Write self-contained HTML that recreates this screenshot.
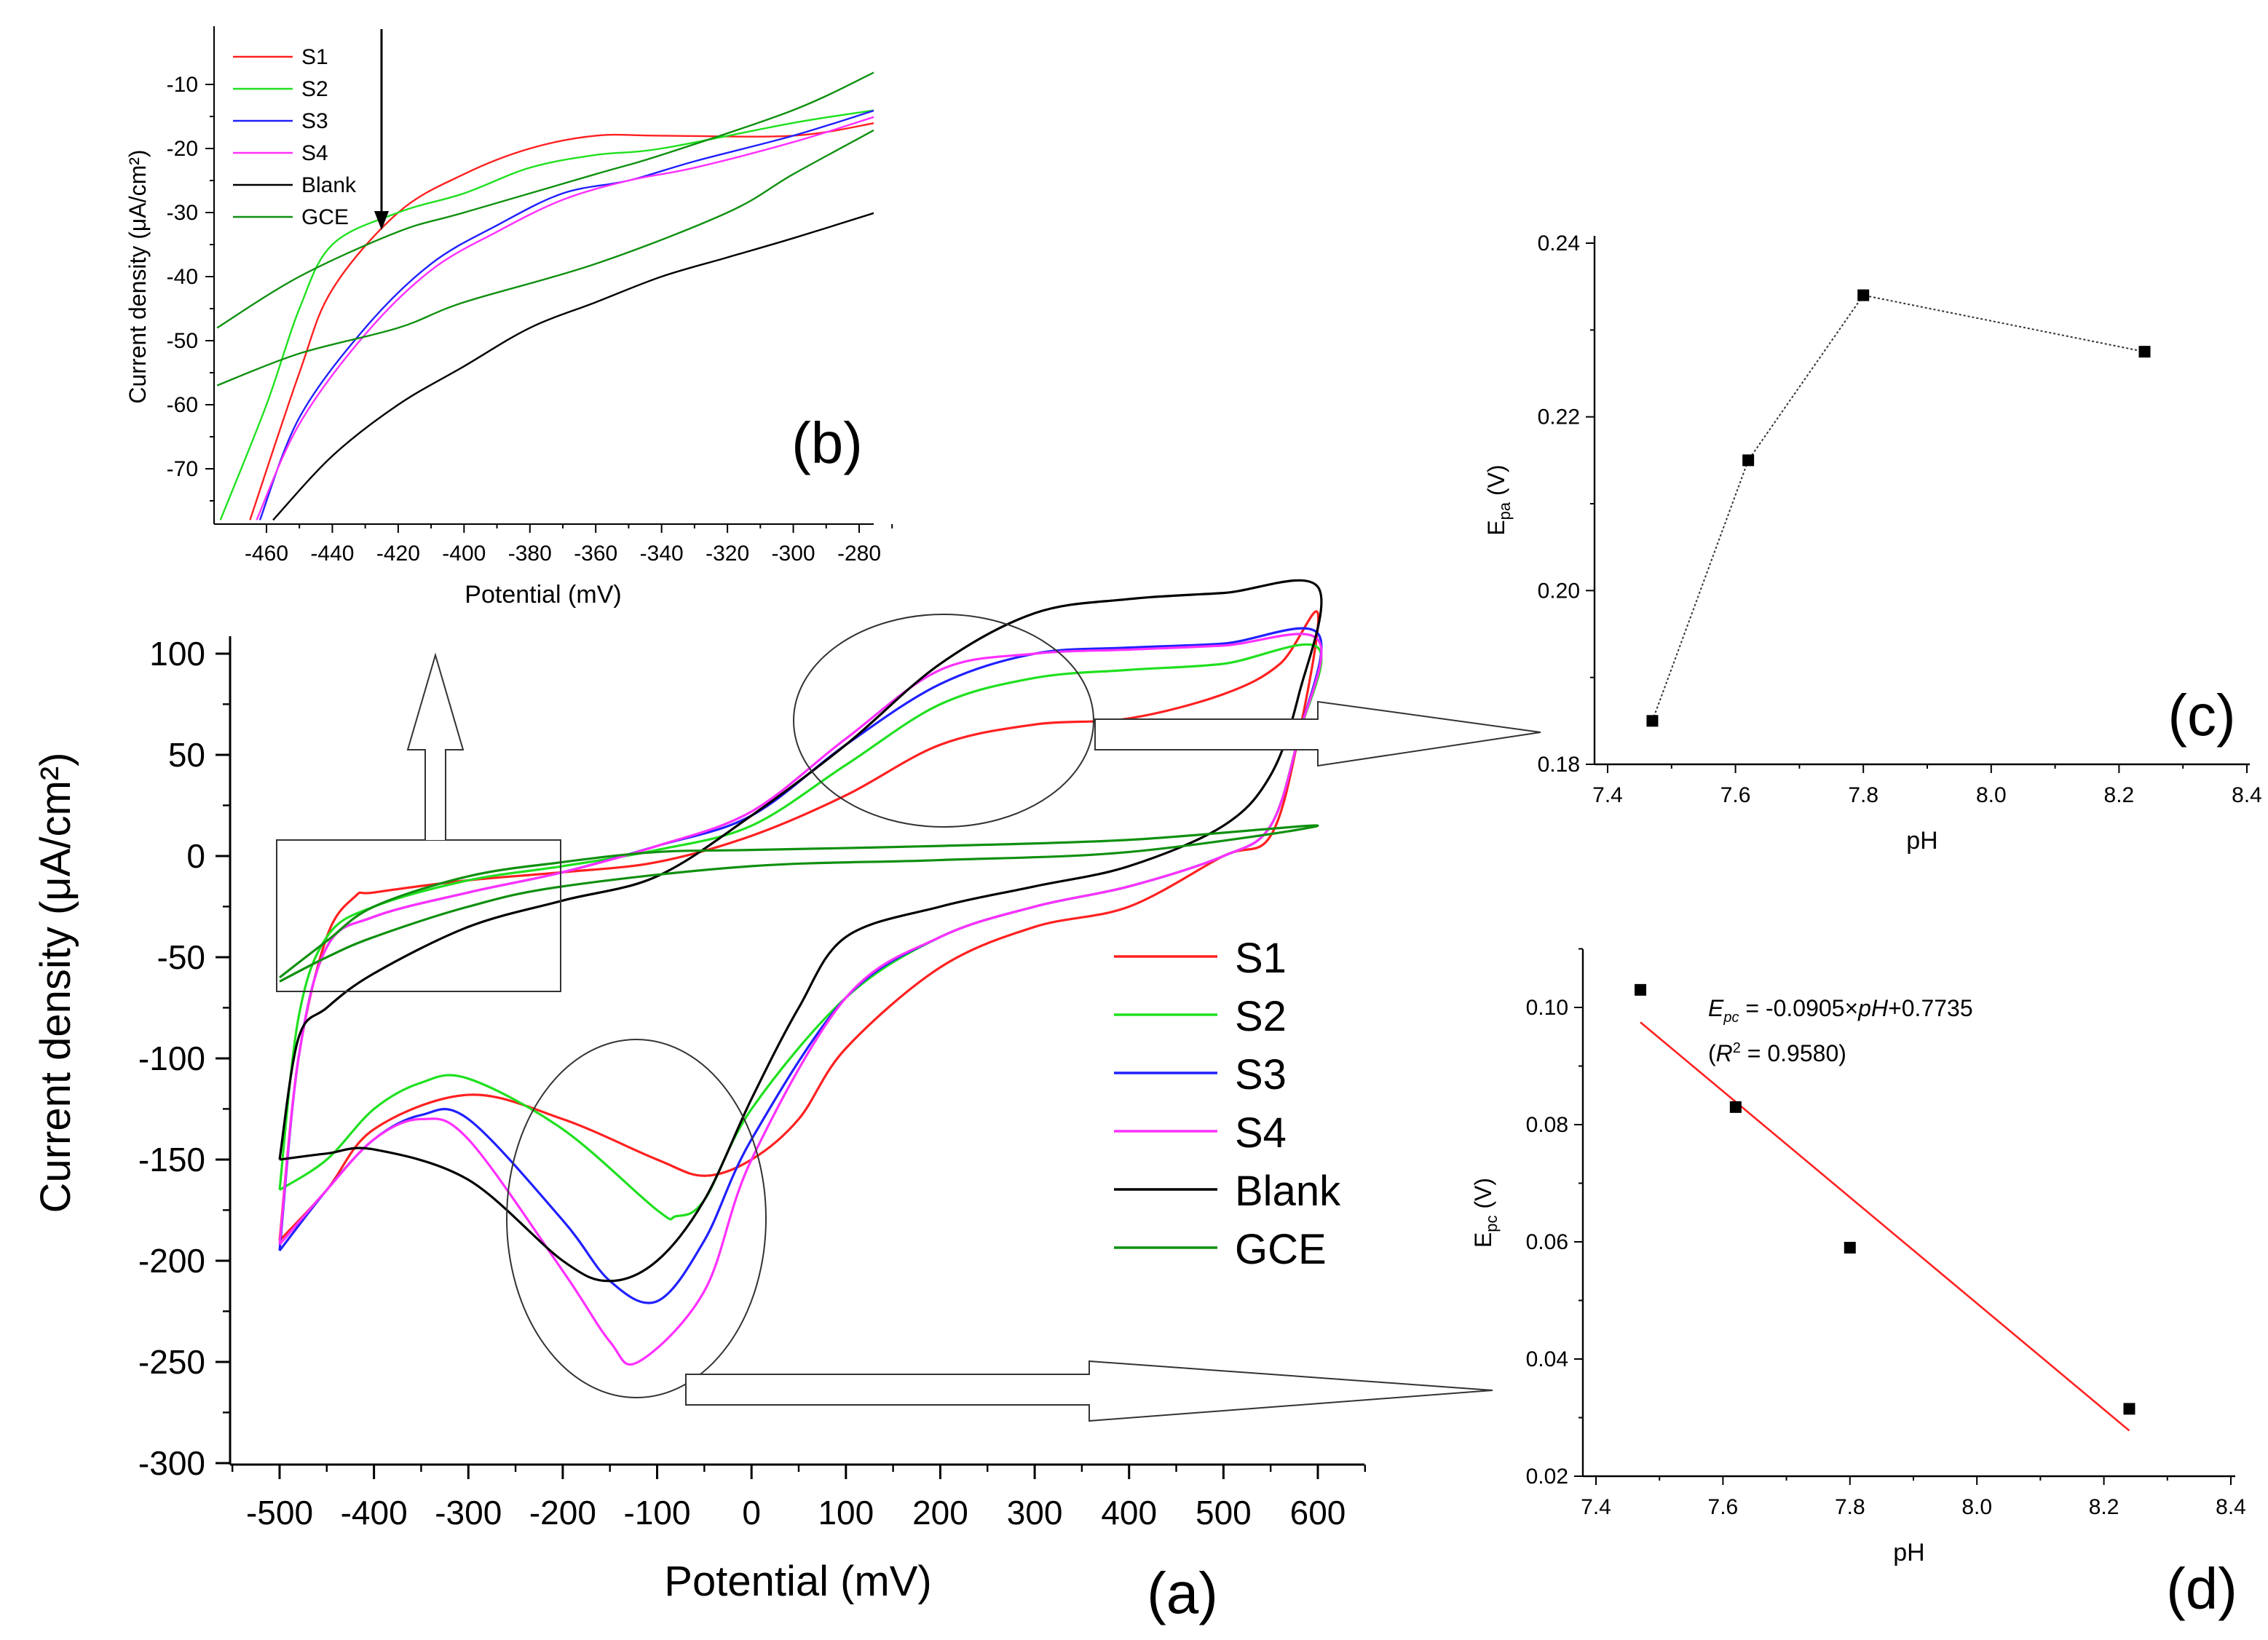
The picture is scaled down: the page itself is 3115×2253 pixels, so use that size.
<!DOCTYPE html>
<html><head><meta charset="utf-8"><style>
html,body{margin:0;padding:0;background:#fff}
svg{display:block;font-family:"Liberation Sans",sans-serif}
</style></head><body>
<svg id="fig" width="3115" height="2253" viewBox="0 0 1557.5 1126.5">
<g id="g"></g>
</svg>
<script>
// ---- Panel (a) data: CV curves (potential mV, current density) ----
const aNames = ["S1","S2","S3","S4","Blank","GCE"];
const aColors = ["#ff2020","#20e020","#2020ff","#ff30ff","#000000","#109010"];
const s1X = [-500,-480,-450,-420,-400,-300,-200,-100,0,100,200,300,400,500,560,600,580,550,500,400,300,200,100,50,0,-50,-100,-200,-300,-400,-450,-500];
const s1Y = [-190,-100,-40,-20,-18,-12,-8,-3,10,30,55,65,68,80,95,120,60,10,0,-25,-35,-55,-95,-130,-150,-158,-150,-130,-118,-135,-165,-190];
const s2X = [-500,-480,-450,-400,-300,-200,-100,0,100,200,300,400,500,600,580,550,500,400,300,200,100,0,-50,-80,-100,-200,-300,-350,-400,-450,-500];
const s2Y = [-165,-80,-40,-25,-12,-5,3,15,45,75,88,92,95,103,60,15,0,-15,-25,-40,-70,-125,-170,-178,-175,-135,-110,-112,-125,-150,-165];
const s3X = [-500,-480,-450,-400,-300,-200,-100,0,100,200,300,400,500,600,580,550,500,400,300,200,100,0,-50,-100,-150,-200,-300,-350,-400,-450,-500];
const s3Y = [-195,-100,-45,-30,-18,-8,5,20,55,85,100,103,105,110,60,15,0,-15,-25,-40,-70,-140,-190,-220,-210,-180,-130,-128,-140,-165,-195];
const s4X = [-500,-480,-450,-400,-300,-200,-100,0,100,200,300,400,500,600,580,550,500,400,300,200,100,0,-50,-120,-150,-200,-300,-350,-400,-450,-500];
const s4Y = [-192,-100,-45,-30,-18,-8,5,22,58,92,100,102,104,107,60,15,0,-15,-25,-40,-70,-150,-215,-250,-240,-205,-140,-130,-140,-165,-192];
const blX = [-500,-480,-450,-400,-300,-200,-100,0,100,200,300,400,500,600,580,550,500,400,300,200,100,50,0,-50,-100,-150,-200,-300,-400,-450,-500];
const blY = [-150,-90,-75,-58,-35,-22,-10,20,55,95,120,127,130,133,80,40,15,-5,-15,-25,-40,-75,-120,-170,-200,-210,-200,-160,-145,-147,-150];
const gcX = [-500,-450,-400,-300,-200,-100,0,200,400,600,400,200,0,-200,-300,-400,-450,-500];
const gcY = [-60,-42,-25,-10,-3,2,3,5,8,15,2,-2,-5,-15,-25,-40,-50,-62];
const aXs=[s1X,s2X,s3X,s4X,blX,gcX], aYs=[s1Y,s2Y,s3Y,s4Y,blY,gcY];
const aXTicks=[-500,-400,-300,-200,-100,0,100,200,300,400,500,600];
const aYTicks=[100,50,0,-50,-100,-150,-200,-250,-300];

// ---- Panel (b) data: zoomed region ----
const bS1X=[-465,-450,-440,-420,-400,-380,-360,-340,-300,-275];
const bS1Y=[-78,-55,-42,-30,-24,-20,-18,-18,-18,-16];
const bS2X=[-474,-460,-450,-440,-420,-400,-380,-360,-340,-300,-275];
const bS2Y=[-78,-60,-45,-35,-30,-27,-23,-21,-20,-16,-14];
const bS3X=[-462,-450,-430,-410,-390,-370,-350,-330,-300,-275];
const bS3Y=[-78,-62,-48,-38,-32,-27,-25,-22,-18,-14];
const bS4X=[-463,-450,-430,-410,-390,-370,-350,-330,-300,-275];
const bS4Y=[-78,-63,-49,-39,-33,-28,-25,-23,-19,-15];
const bBlX=[-458,-440,-420,-400,-380,-360,-340,-320,-300,-275];
const bBlY=[-78,-68,-60,-54,-48,-44,-40,-37,-34,-30];
const bGuX=[-475,-450,-420,-400,-360,-340,-300,-275];
const bGuY=[-48,-40,-33,-30,-24,-21,-14,-8];
const bGlX=[-475,-450,-420,-400,-360,-320,-300,-275];
const bGlY=[-57,-52,-48,-44,-38,-30,-24,-17];
const bXs=[bS1X,bS2X,bS3X,bS4X,bBlX,bGuX,bGlX], bYs=[bS1Y,bS2Y,bS3Y,bS4Y,bBlY,bGuY,bGlY];
const bColors=["#ff2020","#20e020","#2020ff","#ff30ff","#000000","#109010","#109010"];
const bXTicks=[-460,-440,-420,-400,-380,-360,-340,-320,-300,-280];
const bYTicks=[-10,-20,-30,-40,-50,-60,-70];

// ---- Panel (c) ----
const cPH=[7.47,7.62,7.80,8.24];
const cEpa=[0.185,0.215,0.234,0.2275];
const cXTicks=[7.4,7.6,7.8,8.0,8.2,8.4];
const cYTicks=[0.18,0.20,0.22,0.24];
// ---- Panel (d) ----
const dPH=[7.47,7.62,7.80,8.24];
const dEpc=[0.103,0.083,0.059,0.0315];
const dSlope=-0.0905, dIntercept=0.7735;
const dXTicks=[7.4,7.6,7.8,8.0,8.2,8.4];
const dYTicks=[0.02,0.04,0.06,0.08,0.10];

const NS="http://www.w3.org/2000/svg";
const root=document.getElementById('g');
function el(tag,attrs,parent,txt){const e=document.createElementNS(NS,tag);for(const k in attrs)e.setAttribute(k,attrs[k]);if(txt!==undefined)e.textContent=txt;(parent||root).appendChild(e);return e;}
function lin(d0,d1,r0,r1){return v=>r0+(v-d0)*(r1-r0)/(d1-d0);}
function smooth(pts){let d="M"+pts[0][0]+","+pts[0][1];for(let i=0;i<pts.length-1;i++){const p0=pts[i-1]||pts[i],p1=pts[i],p2=pts[i+1],p3=pts[i+2]||p2;const c1=[p1[0]+(p2[0]-p0[0])/6,p1[1]+(p2[1]-p0[1])/6],c2=[p2[0]-(p3[0]-p1[0])/6,p2[1]-(p3[1]-p1[1])/6];d+=" C"+c1+" "+c2+" "+p2;}return d;}

// ---------- Panel (a) ----------
const ax=lin(-500,600,192,905), ay=lin(0,100,588,449);
const pa=el('g',{});


el('line',{x1:158,y1:437,x2:158,y2:1006,stroke:'#000','stroke-width':1.5},pa);
el('line',{x1:158,y1:1006,x2:937,y2:1006,stroke:'#000','stroke-width':1.5},pa);
aXTicks.forEach(t=>{const x=ax(t);el('line',{x1:x,y1:1006,x2:x,y2:1016,stroke:'#000','stroke-width':1.5},pa);
 el('line',{x1:x+32.4,y1:1006,x2:x+32.4,y2:1011,stroke:'#000','stroke-width':1.2},pa);
 const tx=el('text',{x:x,y:1047,'font-size':23,'text-anchor':'middle'},pa,String(t));});
el('line',{x1:ax(-550),y1:1006,x2:ax(-550),y2:1011,stroke:'#000','stroke-width':1.2},pa);
aYTicks.forEach(t=>{const y=ay(t);el('line',{x1:148,y1:y,x2:158,y2:y,stroke:'#000','stroke-width':1.5},pa);
 if(t<100)el('line',{x1:153,y1:y-34.8,x2:158,y2:y-34.8,stroke:'#000','stroke-width':1.2},pa);
 const tx=el('text',{x:141,y:y+8,'font-size':23,'text-anchor':'end'},pa,String(t));});
aNames.forEach((n,i)=>{const pts=aXs[i].map((v,j)=>[ax(v),ay(aYs[i][j])]);const p=el('path',{d:smooth(pts),fill:'none',stroke:aColors[i],'stroke-width':1.6},pa);
 
 const ly=657+i*40;el('line',{x1:765,y1:ly,x2:836,y2:ly,stroke:aColors[i],'stroke-width':1.8},pa);
 const lt=el('text',{x:848,y:ly+11,'font-size':29},pa,n);});
let t=el('text',{x:548,y:1096,'font-size':29,'text-anchor':'middle'},pa,'Potential (mV)');
t=el('text',{x:48,y:675,'font-size':29,'text-anchor':'middle',transform:'rotate(-90 48 675)'},pa,'Current density (μA/cm²)');
t=el('text',{x:812,y:1108,'font-size':40,'text-anchor':'middle'},pa,'(a)');
// annotations
el('rect',{x:190,y:577,width:195,height:104,fill:'none',stroke:'#333','stroke-width':1},pa);
el('path',{d:'M292,577 V515 H280 L299,450 L318,515 H306 V577',fill:'#fff',stroke:'#333','stroke-width':1},pa);
el('ellipse',{cx:648,cy:495,rx:103,ry:73,fill:'none',stroke:'#333','stroke-width':1},pa);
el('ellipse',{cx:437,cy:837,rx:89,ry:123,fill:'none',stroke:'#333','stroke-width':1},pa);
el('path',{d:'M752,494 V515 H905 V526 L1058,503 L905,482 V494 Z',fill:'#fff',stroke:'#333','stroke-width':1},pa);
el('path',{d:'M471,944 V965 H748 V976 L1025,955 L748,935 V944 Z',fill:'#fff',stroke:'#333','stroke-width':1},pa);

// ---------- Panel (b) ----------
const bx=lin(-460,-280,183,590), by=lin(-10,-70,58,322);
const pb=el('g',{});


el('defs',{},pb).innerHTML='<clipPath id="cb"><rect x="147" y="18" width="453" height="342"/></clipPath>';
const cg=el('g',{'clip-path':'url(#cb)'},pb);
bXs.forEach((xs,i)=>{const pts=xs.map((v,j)=>[bx(v),by(bYs[i][j])]);const p=el('path',{d:smooth(pts),fill:'none',stroke:bColors[i],'stroke-width':1.2},cg);
 });
el('line',{x1:147,y1:18,x2:147,y2:360,stroke:'#000','stroke-width':1},pb);
el('line',{x1:147,y1:360,x2:600,y2:360,stroke:'#000','stroke-width':1},pb);
bXTicks.forEach(v=>{const x=bx(v);el('line',{x1:x,y1:360,x2:x,y2:366,stroke:'#000'},pb);el('line',{x1:x+22.6,y1:360,x2:x+22.6,y2:363,stroke:'#000'},pb);
 const tx=el('text',{x:x,y:385,'font-size':15,'text-anchor':'middle'},pb,String(v));});
bYTicks.forEach(v=>{const y=by(v);el('line',{x1:141,y1:y,x2:147,y2:y,stroke:'#000'},pb);el('line',{x1:144,y1:y+22,x2:147,y2:y+22,stroke:'#000'},pb);
 const tx=el('text',{x:136,y:y+5,'font-size':15,'text-anchor':'end'},pb,String(v));});
["S1","S2","S3","S4","Blank","GCE"].forEach((n,i)=>{const ly=39+i*22;el('line',{x1:160,y1:ly,x2:201,y2:ly,stroke:aColors[i],'stroke-width':1.2},pb);
 const lt=el('text',{x:207,y:ly+5,'font-size':15},pb,n);});
el('line',{x1:262,y1:20,x2:262,y2:146,stroke:'#000','stroke-width':1.5},pb);
el('path',{d:'M257,145 L262,158 L267,145 Z',fill:'#000'},pb);
t=el('text',{x:373,y:414,'font-size':17,'text-anchor':'middle'},pb,'Potential (mV)');
t=el('text',{x:100,y:190,'font-size':16,'text-anchor':'middle',transform:'rotate(-90 100 190)'},pb,'Current density (μA/cm²)');
t=el('text',{x:568,y:318,'font-size':40,'text-anchor':'middle'},pb,'(b)');

// ---------- Panel (c)/(d) helper ----------
function scatterPanel(name,L,R,T,B,xd,yd,xs,ys,xt,yt,dec,yl,sub,lab,labX,labY,dotted){
 const g=el('g',{});
 
 
 const sx=lin(7.4,8.4,xd[0],xd[1]), sy=lin(yd[0],yd[1],yd[2],yd[3]);
 el('line',{x1:L,y1:T,x2:L,y2:B,stroke:'#000','stroke-width':1.2},g);
 el('line',{x1:L,y1:B,x2:R,y2:B,stroke:'#000','stroke-width':1.2},g);
 xt.forEach(v=>{const x=sx(v);el('line',{x1:x,y1:B,x2:x,y2:B+6,stroke:'#000'},g);if(v<8.4)el('line',{x1:sx(v+0.1),y1:B,x2:sx(v+0.1),y2:B+3,stroke:'#000'},g);
  const tx=el('text',{x:x,y:B+26,'font-size':15,'text-anchor':'middle'},g,v.toFixed(1));});
 yt.forEach(v=>{const y=sy(v);el('line',{x1:L-6,y1:y,x2:L,y2:y,stroke:'#000'},g);const y2=sy(v+0.01);if(y2>T-2)el('line',{x1:L-3,y1:y2,x2:L,y2:y2,stroke:'#000'},g);
  const tx=el('text',{x:L-10,y:y+5,'font-size':15,'text-anchor':'end'},g,v.toFixed(2));});
 if(dotted){const p=el('polyline',{points:xs.map((v,i)=>sx(v)+','+sy(ys[i])).join(' '),fill:'none',stroke:'#333','stroke-width':1,'stroke-dasharray':'1.5,1.5'},g);}
 else{const x0=xs[0],x1=xs[xs.length-1];const p=el('line',{x1:sx(x0),y1:sy(dSlope*x0+dIntercept),x2:sx(x1),y2:sy(dSlope*x1+dIntercept),stroke:'#ff2020','stroke-width':1.3},g);}
 xs.forEach((v,i)=>{const r=el('rect',{x:sx(v)-4,y:sy(ys[i])-4,width:8,height:8,fill:'#000'},g);});
 const cx=(L+R)/2;t=el('text',{x:cx,y:B+58,'font-size':17,'text-anchor':'middle'},g,'pH');
 const yc=(T+B)/2;t=el('text',{x:yl,y:yc,'font-size':16,'text-anchor':'middle',transform:`rotate(-90 ${yl} ${yc})`},g);t.innerHTML='E<tspan font-size="11" dy="4">'+sub+'</tspan><tspan dy="-4"> (V)</tspan>';
 t=el('text',{x:labX,y:labY,'font-size':40,'text-anchor':'middle'},g,lab);
 return g;}
scatterPanel('panel-c',1095,1545,162,525,[1104,1543],[0.18,0.24,525,167],cPH,cEpa,cXTicks,cYTicks,2,1033,'pa','(c)',1512,505,true);
const gd=scatterPanel('panel-d',1087,1535,652,1014,[1096,1532],[0.02,0.10,1014,692],dPH,dEpc,dXTicks,dYTicks,2,1024,'pc','(d)',1512,1105,false);
t=el('text',{x:1173,y:698,'font-size':16},gd);t.innerHTML='<tspan font-style="italic">E</tspan><tspan font-size="10" font-style="italic" dy="4">pc</tspan><tspan dy="-4"> = -0.0905×</tspan><tspan font-style="italic">pH</tspan>+0.7735';
t=el('text',{x:1173,y:729,'font-size':16},gd);t.innerHTML='(<tspan font-style="italic">R</tspan><tspan font-size="10" dy="-6">2</tspan><tspan dy="6"> = 0.9580)</tspan>';
</script>
</body></html>
